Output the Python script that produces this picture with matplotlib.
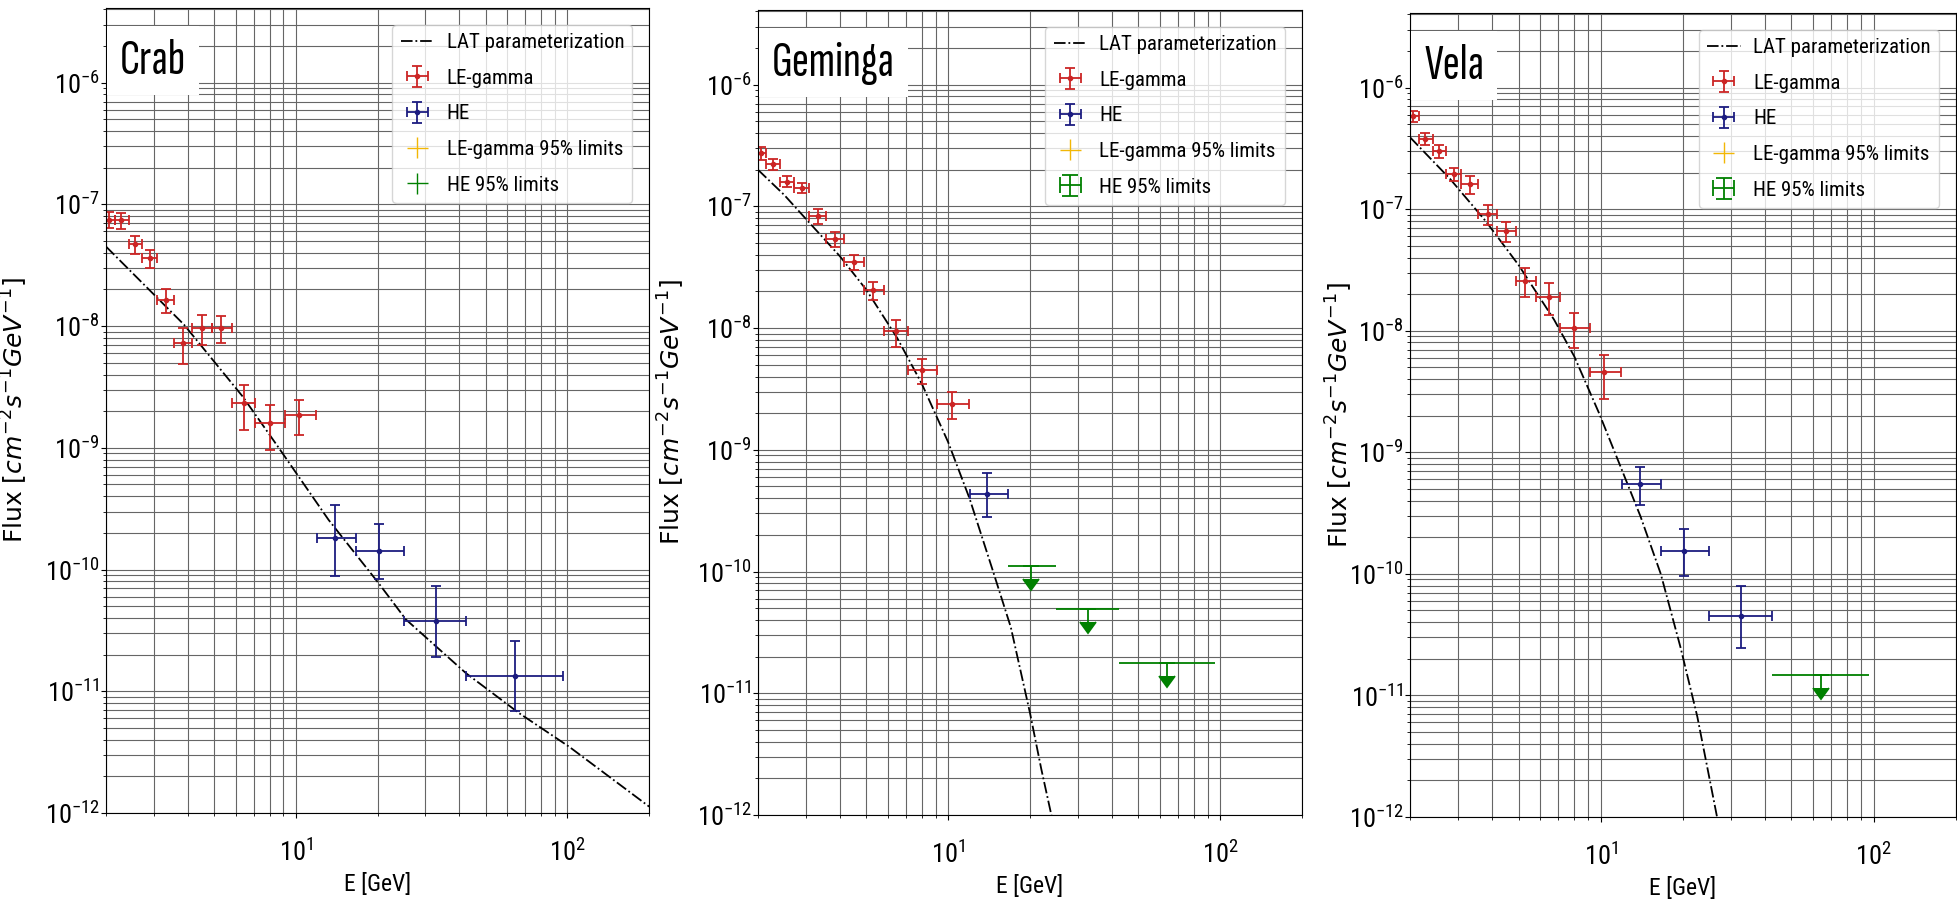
import numpy as np
import matplotlib
matplotlib.use("Agg")
import matplotlib.pyplot as plt

# LE-gamma energy bins [GeV] (same for all three pulsars)
le_energy = [2.05, 2.27, 2.56, 2.9, 3.32, 3.85, 4.5, 5.3, 6.45, 8.0, 10.3]
le_lo = [1.95, 2.15, 2.42, 2.72, 3.07, 3.55, 4.15, 4.9, 5.8, 7.1, 9.1]
le_hi = [2.15, 2.42, 2.72, 3.07, 3.55, 4.15, 4.9, 5.8, 7.1, 9.1, 11.9]

# HE energy bins [GeV]
he_energy = [13.9, 20.2, 32.7, 64.0]
he_lo = [12.0, 16.6, 25.0, 42.5]
he_hi = [16.6, 25.0, 42.5, 96.0]

# Crab
crab_lat_e = [2.0, 3.87, 6.37, 8.65, 13.2, 20.2, 25.4, 42.3, 66.5, 101.6, 200.0]
crab_lat_f = [4.5e-8, 1.03e-8, 2.64e-9, 1.0e-9, 2.56e-10, 7.7e-11, 3.9e-11, 1.41e-11, 6.6e-12, 3.5e-12, 1.13e-12]
crab_le_f = [7.5e-8, 7.4e-8, 4.7e-8, 3.6e-8, 1.65e-8, 7.3e-9, 9.7e-9, 9.7e-9, 2.35e-9, 1.6e-9, 1.87e-9]
crab_le_rel = [0.15, 0.15, 0.17, 0.17, 0.22, 0.33, 0.28, 0.25, 0.40, 0.40, 0.32]
crab_he_f = [1.82e-10, 1.41e-10, 3.8e-11, 1.34e-11]
crab_he_low = [8.8e-11, 8.3e-11, 1.9e-11, 6.9e-12]
crab_he_high = [3.4e-10, 2.35e-10, 7.3e-11, 2.6e-11]
crab_ul_bins = []
crab_ul_f = []

# Geminga
gem_lat_e = [2.0, 2.5, 3.0, 4.0, 5.0, 6.5, 8.0, 10.0, 12.0, 14.5, 17.0, 20.0, 22.0, 24.5]
gem_lat_f = [2.0e-7, 1.24e-7, 7.9e-8, 3.9e-8, 2.07e-8, 8.3e-9, 3.5e-9, 1.16e-9, 3.97e-10, 1.07e-10, 3.5e-11, 6.9e-12, 2.4e-12, 8e-13]
gem_le_f = [2.75e-7, 2.23e-7, 1.6e-7, 1.42e-7, 8.3e-8, 5.4e-8, 3.5e-8, 2.04e-8, 9.4e-9, 4.55e-9, 2.4e-9]
gem_le_rel = [0.12, 0.10, 0.10, 0.10, 0.14, 0.14, 0.14, 0.17, 0.25, 0.23, 0.25]
gem_he_f = [4.3e-10]
gem_he_low = [2.8e-10]
gem_he_high = [6.5e-10]
gem_ul_bins = [1, 2, 3]
gem_ul_f = [1.11e-10, 4.95e-11, 1.77e-11]

# Vela
vela_lat_e = [2.0, 2.8, 3.8, 5.0, 6.75, 8.0, 9.86, 11.83, 14.0, 16.6, 19.6, 22.6, 26.7]
vela_lat_f = [3.9e-7, 1.78e-7, 7.9e-8, 3.47e-8, 1.23e-8, 6.15e-9, 2.1e-9, 7.6e-10, 2.96e-10, 1.0e-10, 2.5e-11, 6.7e-12, 1.0e-12]
vela_le_f = [5.8e-7, 3.8e-7, 3.0e-7, 1.94e-7, 1.6e-7, 9.1e-8, 6.6e-8, 2.58e-8, 1.91e-8, 1.05e-8, 4.55e-9]
vela_le_rel = [0.10, 0.12, 0.13, 0.13, 0.16, 0.19, 0.19, 0.27, 0.30, 0.32, 0.40]
vela_he_f = [5.45e-10, 1.53e-10, 4.5e-11]
vela_he_low = [3.7e-10, 9.6e-11, 2.44e-11]
vela_he_high = [7.6e-10, 2.33e-10, 7.9e-11]
vela_ul_bins = [3]
vela_ul_f = [1.47e-11]

names_ = ["Crab", "Geminga", "Vela"]

plt.rcParams["font.family"] = ["Roboto Condensed", "DejaVu Sans"]
plt.rcParams["mathtext.fontset"] = "custom"
plt.rcParams["mathtext.rm"] = "Roboto Condensed"
plt.rcParams["mathtext.it"] = "Roboto Condensed:italic"
plt.rcParams["mathtext.bf"] = "Roboto Condensed:bold"


def draw(ax, name, ylab_x, lat_e, lat_f, le_f, le_rel, he_f, he_low, he_high, ul_bins, ul_f):
    red = "#cc2525"
    blue = "#1c1c80"
    green = "green"
    gold = "#f2b705"
    kw = dict(elinewidth=1.3, capsize=3.5, capthick=1.3)

    ax.plot(lat_e, lat_f, color="black", ls="-.", lw=1.3, label="LAT parameterization")

    e = np.array(le_energy)
    f = np.array(le_f)
    ax.errorbar(e, f, xerr=[e - np.array(le_lo), np.array(le_hi) - e],
                yerr=np.array(le_rel) * f, fmt="o", ms=3, color=red, label="LE-gamma", **kw)

    n = len(he_f)
    e = np.array(he_energy[:n])
    f = np.array(he_f)
    ax.errorbar(e, f, xerr=[e - np.array(he_lo[:n]), np.array(he_hi[:n]) - e],
                yerr=[f - np.array(he_low), np.array(he_high) - f],
                fmt="o", ms=3, color=blue, label="HE", **kw)

    ax.errorbar([], [], xerr=[], yerr=[], fmt="none", color=gold, lw=1.0,
                label="LE-gamma 95% limits")

    e = np.array([he_energy[i] for i in ul_bins])
    lo = np.array([he_lo[i] for i in ul_bins])
    hi = np.array([he_hi[i] for i in ul_bins])
    f = np.array(ul_f)
    if len(ul_f):
        c = ax.errorbar(e, f, xerr=[e - lo, hi - e], yerr=0.22 * f, uplims=True,
                        fmt="none", color=green, elinewidth=1.3, capsize=5.5, capthick=1.3,
                        label="HE 95% limits")
        # no end caps on the horizontal bar, only the arrow
        for cl in c.lines[1]:
            if cl.get_marker() == "|":
                cl.set_data([], [])
    else:
        ax.errorbar([], [], xerr=[], yerr=[], fmt="none", color=green, lw=1.0,
                    label="HE 95% limits")

    ax.set_xscale("log")
    ax.set_yscale("log")
    ax.set_xlim(2, 200)
    ax.set_ylim(1e-12, 4.1e-6)
    ax.grid(True, which="both", color="0.4", lw=0.8)
    ax.tick_params(axis="both", which="major", labelsize=19)
    ax.tick_params(axis="x", which="both", pad=15)
    ax.tick_params(axis="y", which="both", pad=1)
    ax.set_xlabel("E [GeV]", fontsize=17, labelpad=5)
    yl = ax.set_ylabel(r"Flux [$cm^{-2}s^{-1}GeV^{-1}$]", fontsize=18, family="DejaVu Sans")
    yl.set_math_fontfamily("dejavusans")
    ax.yaxis.set_label_coords(ylab_x, 0.5)
    ax.text(0.026, 0.962, name, transform=ax.transAxes, fontsize=37, va="top", ha="left",
            family=["Sofia Sans Extra Condensed", "Fira Sans Extra Condensed", "DejaVu Sans"],
            bbox=dict(boxstyle="square,pad=0.25", fc="white", ec="none"), zorder=5)
    ax.legend(loc="upper right", fontsize=15, labelspacing=0.8, handlelength=1.6,
              handletextpad=0.6, borderaxespad=0.8)


def main():
    fig = plt.figure(figsize=(19.57, 9.06), dpi=100)
    boxes = [[0.0542, 0.1026, 0.2775, 0.8885],
             [0.3873, 0.1004, 0.2780, 0.8885],
             [0.7205, 0.0982, 0.2788, 0.8874]]
    ylab_xs = [-0.14, -0.13, -0.1]
    panels = [
        (crab_lat_e, crab_lat_f, crab_le_f, crab_le_rel, crab_he_f, crab_he_low, crab_he_high, crab_ul_bins, crab_ul_f),
        (gem_lat_e, gem_lat_f, gem_le_f, gem_le_rel, gem_he_f, gem_he_low, gem_he_high, gem_ul_bins, gem_ul_f),
        (vela_lat_e, vela_lat_f, vela_le_f, vela_le_rel, vela_he_f, vela_he_low, vela_he_high, vela_ul_bins, vela_ul_f),
    ]
    for box, name, yx, p in zip(boxes, names_, ylab_xs, panels):
        ax = fig.add_axes(box)
        draw(ax, name, yx, *p)

    fig.savefig("out.png", dpi=100)


if __name__ == "__main__":
    main()
